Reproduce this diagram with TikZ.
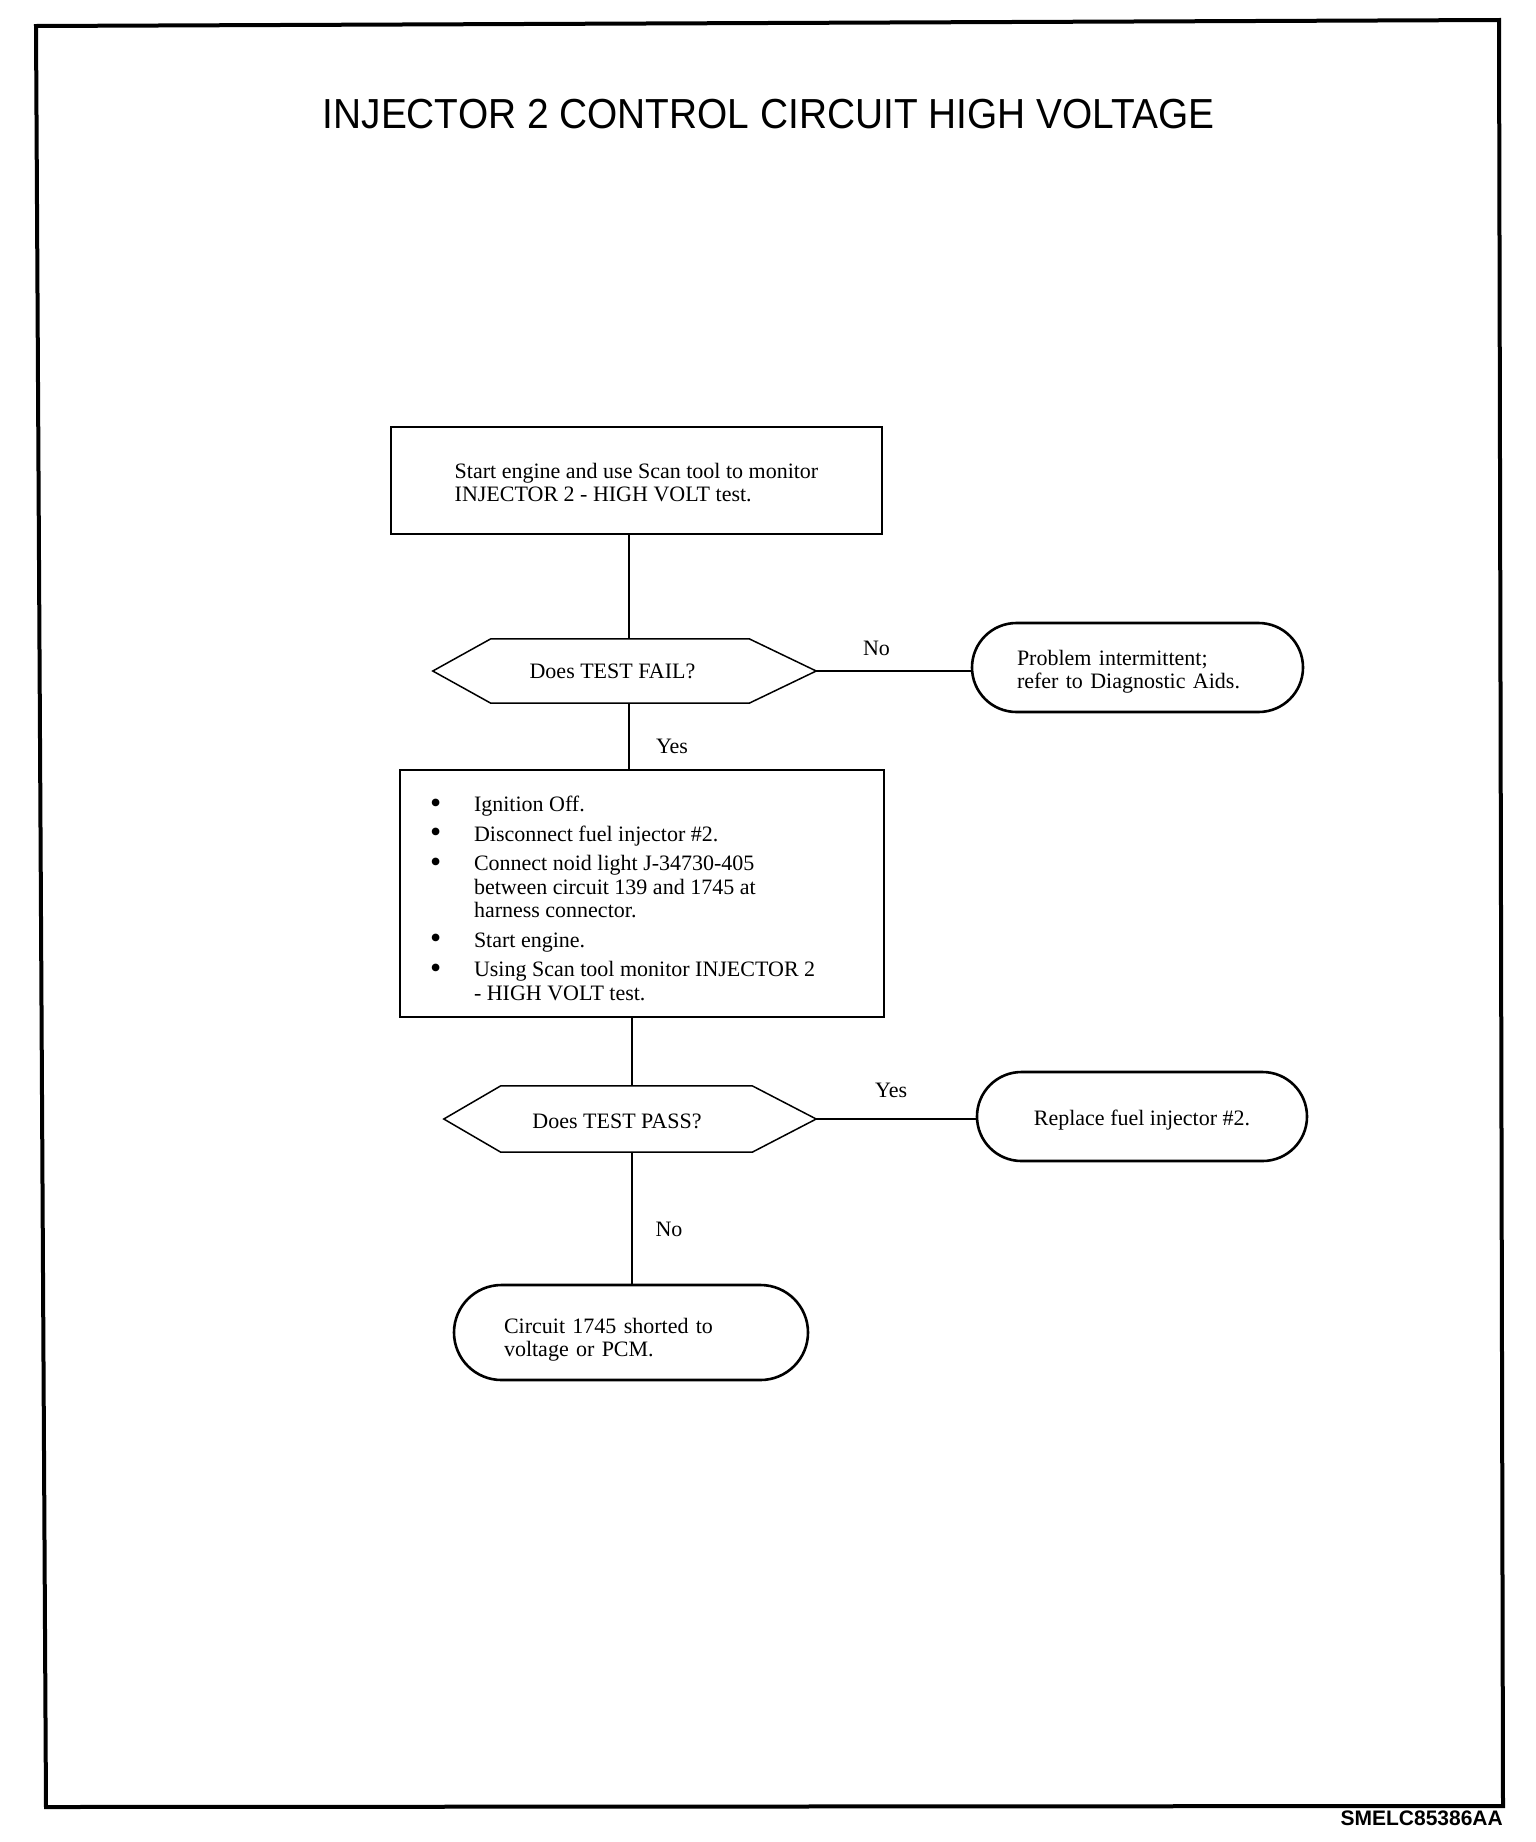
\documentclass[tikz,border=0pt]{standalone}
\usepackage{fontspec}
\usepackage{graphicx}
\setmainfont{Liberation Serif}
\newfontfamily\arialfont{Liberation Sans}
\usetikzlibrary{shapes.misc,calc}
\newcommand\lowerby[2]{\raisebox{-#1}[\height][\depth]{#2}}
\newcommand\bigbul{\raisebox{-1.5pt}{\scalebox{1.45}{\textbullet}}}
\begin{document}
\begin{tikzpicture}[x=1pt,y=-1pt,
  txt/.style={font=\fontsize{22}{23.5}\selectfont},
  procbox/.style={draw, line width=1.8pt, rectangle, txt, inner sep=0pt},
  hexnode/.style={rectangle, draw=none, txt, inner sep=0pt},
  hexline/.style={line width=1.5pt, line join=miter},
  termbox/.style={draw, line width=2.6pt, rounded rectangle, txt, inner sep=0pt},
  conn/.style={line width=1.6pt},
  lbl/.style={txt, inner sep=0pt}]
\useasboundingbox (0,0) rectangle (1536,1842);
\fill[white] (0,0) rectangle (1536,1842);
% frame
\draw[line width=4pt, line join=miter] (36,26) -- (1499,20) -- (1503,1806) -- (46,1807) -- cycle;
% title and code
\node[font=\arialfont\fontsize{42}{50}\selectfont, inner sep=0pt] (title) at (768.5,114)
  {\scalebox{0.925}[1]{INJECTOR 2 CONTROL CIRCUIT HIGH VOLTAGE}};
\node[font=\arialfont\bfseries\fontsize{21}{25}\selectfont, anchor=east, inner sep=0pt] (code) at (1503,1818) {SMELC85386AA};
% boxes
\node[procbox, minimum width=491pt, minimum height=107pt] (b1) at (636.5,480.5)
  {\lowerby{5pt}{\begin{tabular}{@{}l@{}}Start engine and use Scan tool to monitor\\INJECTOR 2 - HIGH VOLT test.\end{tabular}}};
\node[hexnode, minimum width=383pt, minimum height=64pt] (h1) at (624.5,671) {\hspace*{-24pt}Does TEST FAIL?};
\draw[hexline] (h1.west) -- ([xshift=58pt]h1.north west) -- ([xshift=-67pt]h1.north east) -- (h1.east)
  -- ([xshift=-67pt]h1.south east) -- ([xshift=58pt]h1.south west) -- cycle;
\node[termbox, minimum width=331pt, minimum height=89pt, text width=241pt, align=left] (o1) at (1137.5,667.5)
  {\lowerby{5pt}{\begin{tabular}{@{}l@{}}Problem intermittent;\\refer to Diagnostic Aids.\end{tabular}}};
\node[procbox, minimum width=484pt, minimum height=247pt] (b2) at (642,893.5)
  {\lowerby{8pt}{\begin{tabular}{@{}p{44pt}@{}p{380pt}@{}}
   \bigbul & Ignition Off.\\[6pt]
   \bigbul & Disconnect fuel injector \#2.\\[6pt]
   \bigbul & Connect noid light J-34730-405\\
           & between circuit 139 and 1745 at\\
           & harness connector.\\[6pt]
   \bigbul & Start engine.\\[6pt]
   \bigbul & Using Scan tool monitor INJECTOR 2\\
           & - HIGH VOLT test.
   \end{tabular}}};
\node[hexnode, minimum width=372pt, minimum height=66pt] (h2) at (630,1119) {\hspace*{-26pt}\lowerby{2pt}{Does TEST PASS?}};
\draw[hexline] (h2.west) -- ([xshift=57pt]h2.north west) -- ([xshift=-64pt]h2.north east) -- (h2.east)
  -- ([xshift=-64pt]h2.south east) -- ([xshift=57pt]h2.south west) -- cycle;
\node[termbox, minimum width=330pt, minimum height=89pt] (o2) at (1142,1116.5) {\lowerby{4pt}{Replace fuel injector \#2.}};
\node[termbox, minimum width=354pt, minimum height=95pt, text width=254pt, align=left] (o3) at (631,1332.5)
  {\lowerby{8pt}{\begin{tabular}{@{}l@{}}Circuit 1745 shorted to\\voltage or PCM.\end{tabular}}};
% connectors
\coordinate (xa) at (629,0);
\coordinate (xb) at (632,0);
\draw[conn] (b1.south -| xa) -- (h1.north -| xa);
\draw[conn] (h1.south -| xa) -- node[lbl, pos=0.66, xshift=43pt] {Yes} (b2.north -| xa);
\draw[conn] (h1.east) -- node[lbl, pos=0.39, yshift=23pt] {No} (h1.east -| o1.west);
\draw[conn] (b2.south -| xb) -- (h2.north -| xb);
\draw[conn] (h2.east) -- node[lbl, pos=0.47, yshift=29pt] {Yes} (h2.east -| o2.west);
\draw[conn] (h2.south -| xb) -- node[lbl, pos=0.59, xshift=37pt] {No} (o3.north -| xb);
\end{tikzpicture}
\end{document}
